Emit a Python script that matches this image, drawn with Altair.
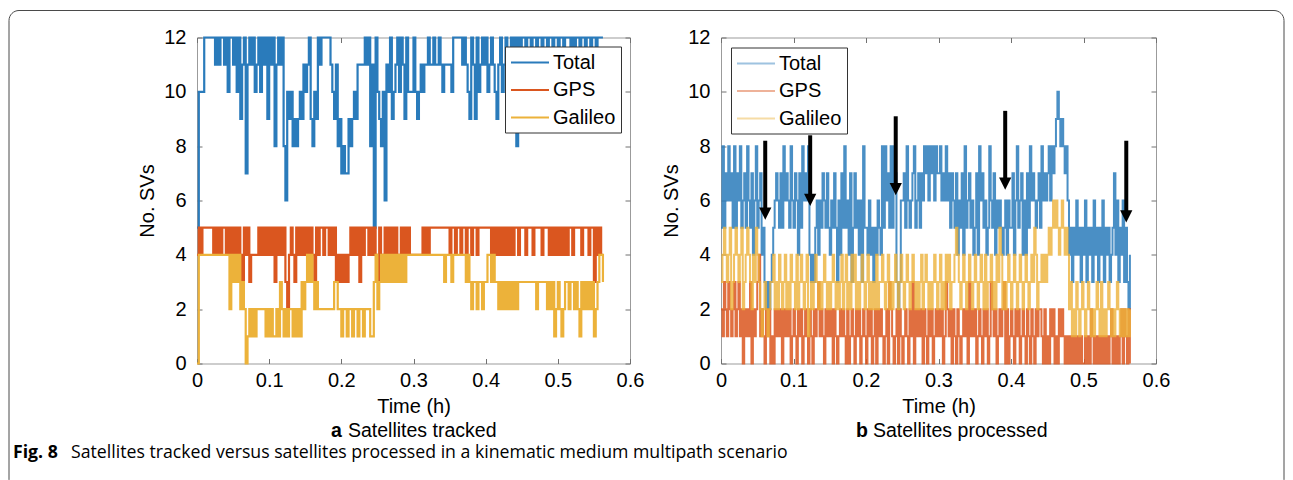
import altair as alt
import pandas as pd

# ---------------- data ----------------
SERIES = ["Total", "GPS", "Galileo"]
COLORS = ["#2a7bbb", "#da561f", "#ecb23a"]
X_TICKS = [0, 0.1, 0.2, 0.3, 0.4, 0.5, 0.6]
Y_TICKS = [0, 2, 4, 6, 8, 10, 12]

# panel a: one group = 0.025 h, one value every 0.0025 h
DT_A, SPAN_A = 0.0025, 0.025
TOTAL_A = [
    [5, 10, 10, 10, 12, 12, 12, 12, 12, 12],
    [11, 12, 11, 12, 12, 11, 12, 10, 12, 12],
    [11, 12, 10, 12, 9, 11, 12, 7, 11, 12],
    [11, 12, 10, 11, 12, 10, 12, 11, 12, 9],
    [12, 11, 12, 8, 11, 12, 11, 12, 8, 6],
    [10, 9, 10, 8, 9, 8, 9, 10, 9, 11],
    [10, 11, 12, 9, 8, 10, 9, 12, 11, 12],
    [12, 12, 12, 12, 11, 10, 9, 11, 8, 9],
    [7, 8, 7, 7, 9, 8, 9, 10, 9, 11],
    [11, 11, 11, 12, 11, 12, 8, 11, 5, 12],
    [10, 9, 8, 10, 6, 11, 10, 12, 9, 10],
    [11, 12, 10, 12, 11, 9, 12, 10, 10, 10],
    [12, 10, 9, 10, 11, 10, 11, 11, 12, 11],
    [11, 12, 11, 11, 12, 11, 10, 11, 11, 11],
    [11, 10, 12, 12, 12, 12, 12, 11, 12, 11],
    [10, 9, 12, 11, 9, 12, 10, 11, 12, 11],
    [12, 10, 11, 12, 11, 10, 9, 11, 12, 10],
    [11, 12, 10, 11, 12, 11, 12, 8, 12, 11],
    [12, 12, 11, 12, 12, 11, 12, 12, 11, 12],
    [12, 11, 12, 12, 11, 12, 12, 11, 12, 12],
    [11, 12, 12, 11, 12, 12, 12, 11, 12, 11],
    [12, 12, 11, 12, 12, 11, 12, 12, 11, 12],
    [12, 11, 12, 12, 12, 12],
]
GPS_A = [
    [4, 5, 4, 5, 5, 5, 5, 5, 5, 4],
    [5, 4, 5, 4, 5, 5, 4, 5, 4, 5],
    [4, 5, 4, 5, 4, 3, 5, 4, 5, 3],
    [4, 4, 4, 4, 5, 4, 5, 4, 5, 4],
    [5, 4, 5, 3, 5, 4, 5, 4, 5, 3],
    [2, 4, 5, 4, 3, 5, 4, 5, 4, 5],
    [4, 5, 4, 5, 4, 3, 5, 4, 5, 5],
    [4, 5, 5, 4, 5, 4, 5, 3, 4, 3],
    [4, 3, 4, 3, 4, 5, 4, 5, 4, 5],
    [3, 5, 4, 5, 5, 4, 5, 4, 5, 4],
    [3, 5, 4, 3, 5, 4, 5, 4, 5, 4],
    [5, 3, 4, 5, 3, 5, 4, 5, 4, 4],
    [4, 4, 4, 4, 4, 5, 4, 5, 4, 5],
    [5, 5, 5, 5, 5, 5, 5, 5, 5, 5],
    [4, 5, 5, 4, 5, 5, 4, 5, 5, 4],
    [5, 5, 4, 5, 5, 4, 5, 5, 5, 5],
    [5, 5, 5, 4, 5, 4, 5, 4, 5, 4],
    [5, 4, 5, 4, 5, 4, 5, 5, 4, 5],
    [5, 5, 4, 5, 5, 5, 4, 5, 5, 5],
    [5, 4, 5, 5, 5, 4, 5, 4, 5, 4],
    [5, 4, 5, 4, 5, 4, 5, 5, 4, 5],
    [5, 5, 5, 4, 5, 5, 5, 4, 5, 5],
    [3, 5, 4, 5, 4, 4],
]
GAL_A = [
    [0, 4, 4, 4, 4, 4, 4, 4, 4, 4],
    [4, 4, 4, 4, 4, 4, 4, 4, 2, 4],
    [3, 4, 3, 4, 2, 3, 2, 0, 1, 2],
    [1, 2, 1, 2, 2, 2, 2, 2, 1, 2],
    [1, 2, 1, 1, 2, 1, 3, 2, 1, 2],
    [1, 2, 2, 1, 2, 1, 2, 1, 3, 2],
    [3, 4, 3, 4, 3, 2, 3, 2, 2, 2],
    [2, 2, 2, 2, 2, 2, 3, 3, 2, 2],
    [1, 2, 2, 1, 2, 2, 1, 2, 2, 1],
    [2, 2, 1, 2, 2, 2, 1, 1, 3, 4],
    [2, 3, 4, 3, 4, 3, 4, 3, 4, 3],
    [4, 3, 4, 3, 4, 3, 4, 4, 4, 4],
    [4, 4, 4, 4, 4, 4, 4, 4, 4, 4],
    [4, 4, 4, 4, 4, 4, 4, 3, 4, 4],
    [4, 3, 4, 4, 4, 4, 4, 4, 4, 3],
    [4, 3, 2, 3, 3, 2, 3, 3, 2, 3],
    [3, 4, 4, 3, 4, 3, 3, 2, 3, 2],
    [3, 2, 3, 2, 3, 2, 3, 2, 3, 3],
    [3, 3, 3, 3, 3, 3, 3, 3, 2, 3],
    [3, 3, 3, 3, 2, 3, 2, 3, 1, 2],
    [3, 2, 1, 2, 3, 3, 2, 3, 3, 2],
    [3, 2, 1, 3, 2, 3, 2, 3, 2, 3],
    [1, 2, 3, 4, 4, 3],
]

# panel b: one chunk = 0.05 h, one digit (hex) every 0.002 h
DT_B, SPAN_B = 0.002, 0.05
TOTAL_B = [
    "58576 86758 57685 67586 57468",
    "56745 32323 45676 57586 76586",
    "57647 58676 84343 56465 76575",
    "46575 36475 85647 35756 46385",
    "54645 35465 48586 75858 73236",
    "67586 56785 67576 87868 78687",
    "78676 86757 65746 57485 67564",
    "57486 75645 86574 65654 56465",
    "57468 56746 47586 76567 58676",
    "78687 89A98 98786 45354 64535",
    "46354 53645 35463 54534 57463",
    "54635 324",
]
GPS_B = [
    "21321 32123 12312 02121 30212",
    "34121 02120 10212 12021 21201",
    "21021 20121 02102 12312 10212",
    "12021 01212 10201 21021 20121",
    "02120 12021 21012 03210 12021",
    "01210 21302 12120 21021 20121",
    "21201 32120 21021 01212 03121",
    "20121 02120 13212 01212 30201",
    "21021 20121 02102 10212 21020",
    "10212 01021 21010 10101 01010",
    "01010 21010 10101 01012 01010",
    "12021 020",
]
GAL_B = [
    "34543 45234 54345 23454 32435",
    "43212 32123 34232 43234 23243",
    "32423 43234 12323 43232 34323",
    "23432 32342 34232 43423 23432",
    "34232 32423 34323 42323 43234",
    "32343 23432 32342 34323 23432",
    "34232 43423 34543 23432 34323",
    "43234 32423 34232 43542 32343",
    "23432 34323 43234 35423 34343",
    "45456 56545 65454 23121 32123",
    "21232 12123 21312 12321 21232",
    "12121 212",
]

# arrows in panel b (time, top value, tip value)
ARROW_T = [0.061, 0.123, 0.241, 0.392, 0.559]
ARROW_TOP = [8.2, 8.4, 9.1, 9.3, 8.2]
ARROW_TIP = [5.3, 5.8, 6.2, 6.4, 5.2]


def rows_a(name, groups):
    out = []
    for g, vals in enumerate(groups):
        for j, v in enumerate(vals):
            out.append({"s": name, "t": round(g * SPAN_A + j * DT_A, 5), "v": v})
    return out


def rows_b(name, chunks):
    out = []
    for k, chunk in enumerate(chunks):
        for j, c in enumerate(chunk.replace(" ", "")):
            out.append({"s": name, "t": round(k * SPAN_B + j * DT_B, 5), "v": int(c, 16)})
    return out


df_a = pd.DataFrame(rows_a("Total", TOTAL_A) + rows_a("GPS", GPS_A) + rows_a("Galileo", GAL_A))
df_b = pd.DataFrame(rows_b("Total", TOTAL_B) + rows_b("GPS", GPS_B) + rows_b("Galileo", GAL_B))
df_arrow = pd.DataFrame({"t": ARROW_T, "top": ARROW_TOP, "tip": ARROW_TIP})

# ---------------- styling ----------------
FONT = "Liberation Sans"
CAP_FONT = "Open Sans"
W_A, W_B, H = 433, 435, 326

xs = alt.Scale(domain=[0, 0.6], nice=False, zero=False)
ys = alt.Scale(domain=[0, 12], nice=False)
cs = alt.Scale(domain=SERIES, range=COLORS)

x_axis = alt.Axis(values=X_TICKS, format="~g", title="Time (h)", offset=-5, tickSize=5,
                  labelPadding=7, titlePadding=6, domain=False, grid=False, labelFlush=False)
y_axis = alt.Axis(values=Y_TICKS, title="No. SVs", offset=-5, tickSize=5,
                  labelPadding=11, titlePadding=6, domain=False, grid=False)
x_top = alt.Axis(orient="top", values=X_TICKS, labels=False, title=None, offset=-5,
                 tickSize=5, domain=False, grid=False)
y_right = alt.Axis(orient="right", values=Y_TICKS, labels=False, title=None, offset=-5,
                   tickSize=5, domain=False, grid=False)


def legend(orient, offset, opacity):
    # long legend line drawn with a custom path, row height stays ~26 px
    return alt.Legend(title=None, orient=orient, offset=offset,
                      symbolType="M-1,0L2.8,0", symbolSize=400, symbolStrokeWidth=2,
                      symbolOpacity=opacity, labelFont=FONT, labelFontSize=20,
                      labelColor="black", labelOffset=21, padding=5, rowPadding=6.5,
                      fillColor="white", strokeColor="#333333")


def lines(df, name, with_axes, leg, width, opacity):
    if with_axes:
        x = alt.X("t:Q", scale=xs, axis=x_axis)
        y = alt.Y("v:Q", scale=ys, axis=y_axis)
    else:
        x = alt.X("t:Q", scale=xs, axis=None)
        y = alt.Y("v:Q", scale=ys, axis=None)
    return (alt.Chart(df).transform_filter(alt.datum.s == name)
            .mark_line(interpolate="step-after", strokeWidth=width, opacity=opacity)
            .encode(x=x, y=y, color=alt.Color("s:N", scale=cs, legend=leg)))


def mirror():
    return alt.Chart(alt.Data(values=[{"t": 0, "v": 0}])).mark_point(opacity=0).encode(
        x=alt.X("t:Q", scale=xs, axis=x_top), y=alt.Y("v:Q", scale=ys, axis=y_right))


def label(text, x, y, weight="normal", size=19.5, font=FONT):
    return alt.Chart(alt.Data(values=[{}])).mark_text(
        text=text, align="left", baseline="middle", fontSize=size, fontWeight=weight,
        font=font, color="black").encode(x=alt.value(x), y=alt.value(y))


frame = alt.Chart(alt.Data(values=[{}])).mark_rect(
    fillOpacity=0, stroke="#4a4a4a", strokeWidth=1, cornerRadius=10).encode(
    x=alt.value(-188), x2=alt.value(1087), y=alt.value(-27), y2=alt.value(452))

leg_a = legend("top-right", 9, 1)
panel_a = alt.layer(
    frame,
    lines(df_a, "Total", True, leg_a, 2.2, 1),
    lines(df_a, "GPS", False, leg_a, 2.2, 1),
    lines(df_a, "Galileo", False, leg_a, 2.2, 1),
    mirror(),
    label("a", 134, 393, "bold"),
    label("Satellites tracked", 151, 393),
    label("Fig. 8", -184, 415, "bold", 17.7, CAP_FONT),
    label("Satellites tracked versus satellites processed in a kinematic medium multipath scenario",
          -126, 415, "normal", 17.7, CAP_FONT),
).resolve_axis(x="independent", y="independent").properties(width=W_A, height=H)

leg_b = legend("top-left", 10, 0.45)
arrow_shaft = alt.Chart(df_arrow).transform_calculate(end="datum.tip + 0.35").mark_rule(
    strokeWidth=4, color="black").encode(
    x=alt.X("t:Q", scale=xs, axis=None), y=alt.Y("top:Q", scale=ys, axis=None), y2="end:Q")
arrow_head = alt.Chart(df_arrow).transform_calculate(mid="datum.tip + 0.22").mark_point(
    shape="M-1,-1L1,-1L0,1Z", filled=True, size=150, color="black", opacity=1).encode(
    x=alt.X("t:Q", scale=xs, axis=None), y=alt.Y("mid:Q", scale=ys, axis=None))

panel_b = alt.layer(
    lines(df_b, "Total", True, leg_b, 2, 0.85),
    lines(df_b, "GPS", False, leg_b, 2, 0.85),
    lines(df_b, "Galileo", False, leg_b, 2, 0.8),
    arrow_shaft,
    arrow_head,
    mirror(),
    label("b", 135, 393, "bold"),
    label("Satellites processed", 152, 393),
).resolve_axis(x="independent", y="independent").properties(width=W_B, height=H)

chart = (alt.hconcat(panel_a, panel_b, spacing=91, bounds="flush")
         .resolve_legend(color="independent")
         .properties(padding={"left": 0, "top": 1.5, "right": 0, "bottom": 0})
         .configure_axis(labelFont=FONT, titleFont=FONT, labelFontSize=20, titleFontSize=20,
                         labelColor="black", titleColor="black", tickColor="#707070",
                         titleFontWeight="normal")
         .configure_view(stroke="#9b9b9b", strokeWidth=1))

chart.save("out.html", embed_options={"renderer": "svg", "actions": False})
